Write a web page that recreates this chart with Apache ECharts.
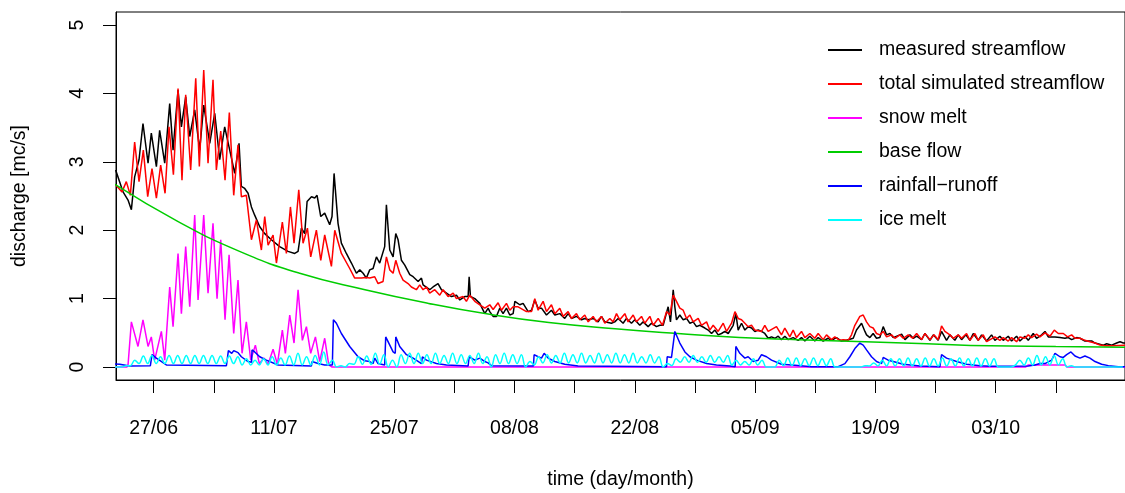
<!DOCTYPE html>
<html><head><meta charset="utf-8">
<script src="https://cdn.jsdelivr.net/npm/echarts@6/dist/echarts.min.js"></script>
<style>html,body{margin:0;padding:0;background:#fff}#c{width:1125px;height:493px}</style>
</head><body><div id="c"></div>
<script>
// ---- DATA (days since 22/06, values in mc/s) ----
const startDate = '2013-06-22';
const tickDates = ['2013-06-27','2013-07-04','2013-07-11','2013-07-18','2013-07-25','2013-08-01','2013-08-08','2013-08-15','2013-08-22','2013-08-29','2013-09-05','2013-09-12','2013-09-19','2013-09-26','2013-10-03','2013-10-10'];
const labelDates = ['2013-06-27','2013-07-11','2013-07-25','2013-08-08','2013-08-22','2013-09-05','2013-09-19','2013-10-03'];
const tickLabels = ['27/06','11/07','25/07','08/08','22/08','05/09','19/09','03/10'];
const yTicks = [0,1,2,3,4,5];

const measuredDay = [0.58,1.44,2.02,2.41,2.79,3.30,3.76,4.35,4.73,5.32,5.70,6.29,6.87,7.26,7.84,8.23,8.73,9.20,9.78,10.36,10.83,11.53,12.11,12.69,13.27,14.44,14.94,15.21,15.60,15.99,16.38,16.76,17.35,17.93,18.70,19.67,20.64,21.42,21.81,22.20,22.58,22.86,23.37,23.75,24.02,24.45,24.91,25.49,25.76,26.00,26.46,26.85,27.43,28.02,28.60,28.99,29.38,29.76,30.15,30.54,30.93,31.31,31.89,32.09,32.48,32.87,33.18,33.45,33.84,34.23,34.81,35.20,35.78,36.17,36.36,37.13,37.52,38.10,38.49,39.08,39.66,40.24,40.63,41.21,41.60,41.72,41.87,42.38,42.96,43.54,43.93,44.12,44.51,44.90,45.28,45.67,46.06,46.45,46.84,47.04,47.61,48.00,48.59,48.98,49.36,49.75,50.14,50.72,51.30,51.69,52.27,52.85,53.24,53.63,54.21,54.79,55.18,55.57,56.15,56.73,57.12,57.51,58.28,58.67,59.06,59.64,60.03,60.61,61.00,61.58,61.97,62.55,62.94,63.52,63.91,64.30,64.88,65.15,65.47,65.66,65.85,66.24,66.63,67.02,67.41,67.79,68.18,68.57,69.15,69.54,69.93,70.32,70.70,71.09,71.48,71.87,72.45,72.76,73.03,73.42,73.81,74.19,74.58,74.97,75.36,75.75,76.13,76.52,76.91,77.30,77.69,78.07,78.46,78.85,79.43,80.01,80.40,80.79,81.37,81.95,82.34,82.92,83.50,83.89,84.47,85.05,85.64,86.42,86.80,87.39,87.78,87.97,88.36,88.74,89.13,89.52,89.91,90.30,90.69,91.08,92.05,92.44,93.02,93.41,93.80,94.38,94.76,95.35,95.74,96.31,96.70,97.28,97.67,98.25,98.64,99.03,99.53,100.00,100.39,100.97,101.36,101.94,102.52,102.91,103.49,103.88,104.46,104.85,105.43,105.82,106.40,106.79,107.37,107.76,108.35,108.74,109.12,109.90,110.48,111.06,111.45,111.84,112.42,112.81,113.39,114.17,114.56,115.53,115.92,116.50,117.08,117.47,117.86,118.20];
const measuredQ = [2.88,2.56,2.44,2.30,2.78,3.03,3.56,2.98,3.42,2.93,3.46,2.98,3.85,3.17,4.05,3.51,3.95,3.37,3.76,3.17,3.83,3.27,3.71,3.03,3.51,2.83,3.27,2.64,2.61,2.54,2.34,2.22,2.05,1.95,1.86,1.76,1.69,1.66,1.69,2.03,1.95,2.42,2.49,2.47,2.51,2.20,2.25,2.08,2.20,2.83,2.10,1.81,1.66,1.52,1.37,1.42,1.37,1.30,1.42,1.44,1.61,1.52,1.76,2.37,1.71,1.61,1.95,1.86,1.56,1.49,1.35,1.32,1.25,1.30,1.20,1.13,1.17,1.22,1.13,1.08,1.03,1.05,0.98,1.03,1.03,1.32,1.03,1.00,0.93,0.78,0.86,0.81,0.74,0.74,0.86,0.78,0.86,0.76,0.78,0.96,0.91,0.93,0.81,0.83,0.98,0.86,0.86,0.76,0.83,0.76,0.78,0.71,0.78,0.71,0.74,0.69,0.71,0.69,0.71,0.66,0.74,0.66,0.64,0.66,0.71,0.64,0.71,0.64,0.69,0.61,0.66,0.59,0.64,0.59,0.61,0.61,0.88,0.66,1.13,0.88,0.69,0.76,0.69,0.71,0.64,0.66,0.59,0.61,0.57,0.54,0.49,0.54,0.47,0.49,0.52,0.49,0.61,0.78,0.54,0.64,0.54,0.59,0.57,0.52,0.54,0.52,0.49,0.42,0.44,0.42,0.45,0.40,0.45,0.40,0.43,0.39,0.43,0.38,0.45,0.38,0.43,0.38,0.42,0.39,0.43,0.38,0.39,0.42,0.54,0.64,0.52,0.47,0.43,0.49,0.42,0.43,0.59,0.47,0.49,0.43,0.48,0.40,0.47,0.42,0.45,0.40,0.49,0.39,0.47,0.39,0.52,0.39,0.47,0.39,0.47,0.40,0.47,0.39,0.49,0.39,0.47,0.38,0.47,0.39,0.45,0.39,0.45,0.38,0.45,0.38,0.45,0.39,0.49,0.42,0.47,0.52,0.44,0.44,0.43,0.42,0.43,0.40,0.43,0.42,0.38,0.38,0.35,0.32,0.34,0.32,0.35,0.37,0.35,0.35];

const simDay = [0.60,1.32,1.82,2.29,2.79,3.30,3.80,4.31,4.81,5.32,5.82,6.33,6.79,7.30,7.84,8.30,8.73,9.31,9.90,10.32,10.83,11.33,11.91,12.30,12.81,13.31,13.81,14.32,14.82,15.21,15.79,16.38,16.96,17.54,17.93,18.32,18.90,19.29,19.98,20.45,20.92,21.34,21.89,22.39,22.90,23.28,23.94,24.45,24.91,25.69,26.08,26.85,27.82,28.40,29.18,29.76,30.15,30.73,31.12,31.70,32.09,32.48,32.87,33.18,33.64,34.03,34.61,35.00,35.58,35.97,36.36,36.75,37.13,37.72,38.30,38.69,39.27,39.86,40.24,41.02,41.40,41.79,42.38,42.96,43.54,44.12,44.51,45.09,45.48,46.06,46.45,46.84,47.42,48.39,48.98,49.36,49.75,50.33,50.72,51.30,51.69,52.27,52.66,53.24,53.63,54.21,54.60,55.18,55.57,56.15,56.54,57.12,57.51,58.09,58.48,58.87,59.25,59.84,60.22,60.81,61.19,61.78,62.16,62.75,63.14,63.72,64.22,64.69,65.08,65.47,65.85,66.24,66.63,67.02,67.41,67.79,68.38,68.76,69.35,69.73,70.12,70.70,71.29,71.68,72.26,72.65,73.03,73.42,73.81,74.19,74.58,74.97,75.75,76.13,76.52,77.49,78.07,78.46,79.04,79.43,79.82,80.40,80.79,81.37,81.95,82.34,82.92,83.31,83.89,84.28,84.86,85.25,85.84,86.22,86.61,87.19,87.58,87.97,88.36,88.74,89.13,89.52,89.91,90.30,90.88,91.27,91.85,92.24,92.82,93.33,93.80,94.38,94.76,95.35,95.82,96.31,96.70,97.09,97.67,98.06,98.64,99.03,99.61,100.00,100.58,100.97,101.55,101.94,102.91,103.49,103.88,104.46,104.85,105.43,105.82,106.40,106.79,107.18,107.76,108.15,108.74,109.32,109.82,110.29,110.87,111.37,111.84,112.23,112.81,113.39,113.97,114.56,115.14,115.72,116.50,118.20];
const simQ = [2.66,2.56,2.71,2.51,3.29,2.71,3.17,2.49,2.90,2.47,2.95,2.54,3.51,2.81,4.07,2.73,3.98,2.88,4.22,2.93,4.34,2.98,4.20,2.88,3.45,2.73,3.72,2.51,3.25,2.49,2.51,1.86,2.15,1.71,2.20,1.78,1.93,1.52,2.12,1.66,2.34,1.81,2.59,1.81,2.03,1.61,2.00,1.56,1.93,1.47,2.00,1.66,1.44,1.30,1.30,1.31,1.30,1.32,1.22,1.25,1.61,1.42,1.37,1.56,1.37,1.27,1.22,1.17,1.13,1.20,1.13,1.17,1.08,1.13,1.05,1.13,1.03,1.08,1.00,1.03,0.96,1.05,0.96,0.91,0.86,0.91,0.84,0.94,0.83,0.93,0.83,0.88,0.88,0.81,0.81,1.00,0.83,0.96,0.81,0.91,0.78,0.86,0.74,0.81,0.71,0.78,0.69,0.76,0.66,0.74,0.66,0.74,0.64,0.71,0.66,0.78,0.69,0.78,0.66,0.76,0.66,0.74,0.64,0.74,0.61,0.71,0.61,0.81,0.76,1.05,0.96,0.86,0.83,0.71,0.76,0.66,0.71,0.61,0.66,0.54,0.61,0.52,0.64,0.52,0.64,0.81,0.71,0.69,0.64,0.59,0.61,0.54,0.52,0.61,0.52,0.59,0.47,0.57,0.44,0.54,0.43,0.52,0.43,0.49,0.42,0.49,0.40,0.47,0.40,0.44,0.39,0.40,0.39,0.47,0.61,0.74,0.76,0.66,0.59,0.57,0.49,0.47,0.52,0.44,0.47,0.42,0.47,0.42,0.47,0.42,0.49,0.40,0.49,0.40,0.47,0.40,0.60,0.52,0.47,0.42,0.47,0.42,0.49,0.39,0.49,0.39,0.47,0.37,0.44,0.39,0.43,0.38,0.43,0.37,0.44,0.42,0.47,0.43,0.48,0.44,0.50,0.45,0.54,0.49,0.49,0.44,0.47,0.42,0.42,0.39,0.37,0.35,0.32,0.31,0.31,0.32];

const snowDay = [0.50,1.90,2.02,2.41,3.18,3.76,4.35,4.73,5.12,5.90,6.29,6.87,7.26,7.84,8.23,8.73,9.20,9.78,10.17,10.83,11.33,11.91,12.38,12.81,13.31,13.78,14.32,14.82,15.29,15.79,16.30,16.84,17.30,17.85,18.32,18.90,19.40,19.98,20.33,20.84,21.34,21.81,22.31,22.78,23.28,23.83,24.33,24.91,25.38,25.77,106.50,106.80,111.10,111.30,118.20];
const snowQ = [0,0,0.03,0.66,0.30,0.69,0.30,0.44,0.10,0.52,0.10,1.17,0.59,1.66,0.78,1.76,0.88,2.22,0.98,2.22,1.08,2.10,1.00,1.86,0.69,1.64,0.49,1.27,0.20,0.66,0.10,0.32,0.05,0.13,0.04,0.26,0.04,0.54,0.20,0.76,0.35,1.13,0.39,0.59,0.20,0.44,0.08,0.42,0.03,0,0,0.03,0.03,0,0];

const baseDay = [0.50,7.8,15.0,22.0,29.6,37.0,44.1,51.0,58.7,66.0,73.2,80.0,87.8,95.0,102.3,110.0,118.2];
const baseQ = [2.67,2.13,1.69,1.37,1.13,0.93,0.77,0.65,0.56,0.49,0.43,0.40,0.37,0.34,0.31,0.30,0.29];

const rainDay = [0.0,1.05,2.21,4.62,4.81,5.32,6.48,13.47,13.70,14.09,14.32,14.82,15.21,15.99,16.40,16.45,16.76,17.35,18.12,19.48,23.36,23.44,24.14,24.91,25.80,25.92,26.27,26.85,27.82,28.79,29.57,30.15,30.54,30.73,31.12,31.89,32.01,32.87,33.12,33.18,33.64,34.42,35.20,36.17,36.28,36.75,37.91,39.08,41.60,41.72,42.38,42.96,43.54,43.93,44.31,49.20,49.28,49.75,50.14,50.45,50.91,51.69,52.85,54.40,64.69,64.77,65.27,65.66,66.24,66.83,67.41,68.18,69.35,70.51,72.06,72.68,72.76,73.22,73.81,74.19,74.77,75.36,75.75,76.33,76.91,78.07,79.62,81.57,84.67,85.45,86.03,86.61,87.19,87.58,87.97,88.55,89.13,89.71,89.91,90.49,91.08,92.24,94.18,96.51,96.70,97.28,98.45,99.61,101.16,102.33,106.79,107.57,108.15,108.74,109.51,109.90,110.48,110.87,111.26,111.76,112.23,112.81,113.39,113.97,114.56,115.33,116.11,117.27,118.20];
const rainQ = [0.05,0.04,0.015,0.02,0.18,0.13,0.03,0.02,0.24,0.20,0.24,0.21,0.15,0.08,0.07,0.25,0.22,0.15,0.10,0.03,0.015,0.08,0.05,0.03,0.03,0.69,0.64,0.49,0.30,0.15,0.09,0.08,0.05,0.13,0.05,0.03,0.44,0.22,0.20,0.44,0.30,0.18,0.13,0.05,0.15,0.10,0.05,0.03,0.015,0.15,0.10,0.13,0.08,0.06,0.02,0.015,0.18,0.15,0.13,0.20,0.13,0.08,0.04,0.015,0.005,0.15,0.14,0.52,0.35,0.22,0.15,0.10,0.05,0.03,0.015,0.005,0.30,0.20,0.13,0.15,0.08,0.10,0.18,0.15,0.10,0.04,0.025,0.005,0.005,0.05,0.15,0.27,0.35,0.32,0.25,0.15,0.08,0.05,0.14,0.10,0.08,0.04,0.015,0.005,0.18,0.13,0.08,0.04,0.02,0.01,0.015,0.03,0.05,0.05,0.10,0.20,0.15,0.14,0.18,0.22,0.16,0.13,0.16,0.13,0.08,0.04,0.02,0.005,0.005];

// ice melt: one morning low and one evening high per day, from 22/06
const iceLow  = [0,0,0.02,0.05,0.05,0.05,0.05,0.05,0.05,0.05,0.05,0.05,0.05,0.05,0.05,0.03,0.03,0.03,0.03,0.03,0.03,0.03,0.03,0.03,0.03,0.03,0,0,0.04,0.04,0.04,0.04,0,0,0.05,0.05,0.05,0.05,0.05,0.05,0.05,0.05,0.05,0.05,0,0.05,0.05,0.05,0,0.03,0.06,0.06,0.06,0.06,0.06,0.06,0.06,0.06,0.06,0.06,0.06,0.06,0.06,0.06,0,0.02,0.07,0.07,0.07,0.07,0.07,0.07,0.03,0.03,0.03,0.03,0,0,0.02,0.02,0.02,0.02,0.02,0.02,0,0,0,0,0.015,0.015,0.015,0.015,0.015,0.015,0.015,0.015,0.015,0.015,0.015,0.015,0.015,0.015,0.015,0,0,0.03,0.03,0.03,0.03,0.03,0.03,0,0,0,0,0,0,0];
const iceHigh = [0,0.02,0.10,0.16,0.17,0.15,0.17,0.17,0.17,0.17,0.17,0.17,0.16,0.16,0.15,0.12,0.10,0.12,0.15,0.13,0.16,0.20,0.15,0.17,0.22,0.10,0.02,0.05,0.15,0.16,0.20,0.18,0.10,0.18,0.20,0.20,0.18,0.20,0.17,0.20,0.18,0.17,0.20,0.15,0.18,0.20,0.18,0.18,0.08,0.15,0.18,0.17,0.20,0.18,0.20,0.17,0.20,0.18,0.20,0.18,0.20,0.15,0.18,0.15,0.05,0.12,0.15,0.17,0.15,0.17,0.15,0.17,0.10,0.08,0.12,0.10,0,0.10,0.13,0.13,0.12,0.13,0.12,0.12,0,0,0,0.02,0.06,0.10,0.12,0.12,0.13,0.12,0.13,0.12,0.13,0.12,0.13,0.12,0.13,0.12,0.12,0,0,0.10,0.13,0.17,0.15,0.17,0.12,0.02,0,0,0,0,0,0];

// ---- BUILD ----
const DAY = 86400000;
const T0 = Date.parse(startDate + 'T00:00:00Z');
const dayOf = s => (Date.parse(s + 'T00:00:00Z') - T0) / DAY;
const pts = (days, vals) => days.map((d, i) => [d, vals[i]]);
const icePts = [];
iceLow.forEach((v, k) => { icePts.push([k + 0.3, v]); icePts.push([k + 0.8, iceHigh[k]]); });

const FONT = '"Liberation Sans", Arial, Helvetica, sans-serif';
const FS = 19.5;
const tickDays = tickDates.map(dayOf);
const labelDays = labelDates.map(dayOf);
const line = (name, color, data, smooth) => ({
  name, type: 'line', data, showSymbol: false, smooth: smooth || false,
  lineStyle: { color, width: 1.5 }, itemStyle: { color }, silent: true, animation: false, clip: true
});

const chart = echarts.init(document.getElementById('c'), null, { renderer: 'canvas' });
chart.setOption({
  animation: false,
  backgroundColor: '#fff',
  textStyle: { fontFamily: FONT },
  grid: { left: 116, right: 0, top: 12, bottom: 113, containLabel: false, outerBoundsMode: 'none',
    show: true, borderColor: '#000', borderWidth: 1, backgroundColor: 'transparent' },
  legend: {
    orient: 'vertical', left: 828, top: 40, padding: 0, itemWidth: 34, itemHeight: 2, itemGap: 14, icon: 'rect',
    textStyle: { fontFamily: FONT, fontSize: FS, color: '#000', lineHeight: 20, padding: [0, 0, 0, 12] },
    data: ['measured streamflow', 'total simulated streamflow', 'snow melt', 'base flow', 'rainfall\u2212runoff', 'ice melt'],
    selectedMode: false
  },
  xAxis: {
    type: 'value', min: 0.62, max: 118.05,
    name: 'time (day/month)', nameLocation: 'middle', nameGap: 90,
    nameTextStyle: { fontFamily: FONT, fontSize: FS, color: '#000' },
    axisLine: { show: true, onZero: false, lineStyle: { color: '#000', width: 1 } },
    axisTick: { show: true, inside: false, length: 13, customValues: tickDays, lineStyle: { color: '#000', width: 1 } },
    axisLabel: { show: true, margin: 39, fontFamily: FONT, fontSize: FS, color: '#000', customValues: labelDays,
      formatter: v => { const i = labelDays.findIndex(d => Math.abs(d - v) < 1e-6); return i >= 0 ? tickLabels[i] : ''; } },
    splitLine: { show: false }
  },
  yAxis: {
    type: 'value', min: -0.19, max: 5.19,
    name: 'discharge [mc/s]', nameLocation: 'middle', nameGap: 86,
    nameTextStyle: { fontFamily: FONT, fontSize: FS, color: '#000' },
    axisLine: { show: true, onZero: false, lineStyle: { color: '#000', width: 1 } },
    axisTick: { show: true, inside: false, length: 13, customValues: yTicks, lineStyle: { color: '#000', width: 1 } },
    axisLabel: { show: true, rotate: 90, margin: 28, fontFamily: FONT, fontSize: FS, color: '#000', customValues: yTicks },
    splitLine: { show: false }
  },
  series: [
    line('measured streamflow', '#000000', pts(measuredDay, measuredQ)),
    line('total simulated streamflow', '#FF0000', pts(simDay, simQ)),
    line('snow melt', '#FF00FF', pts(snowDay, snowQ)),
    line('base flow', '#00CD00', pts(baseDay, baseQ), true),
    line('rainfall\u2212runoff', '#0000FF', pts(rainDay, rainQ)),
    line('ice melt', '#00FFFF', icePts, 0.4)
  ]
});
</script></body></html>
